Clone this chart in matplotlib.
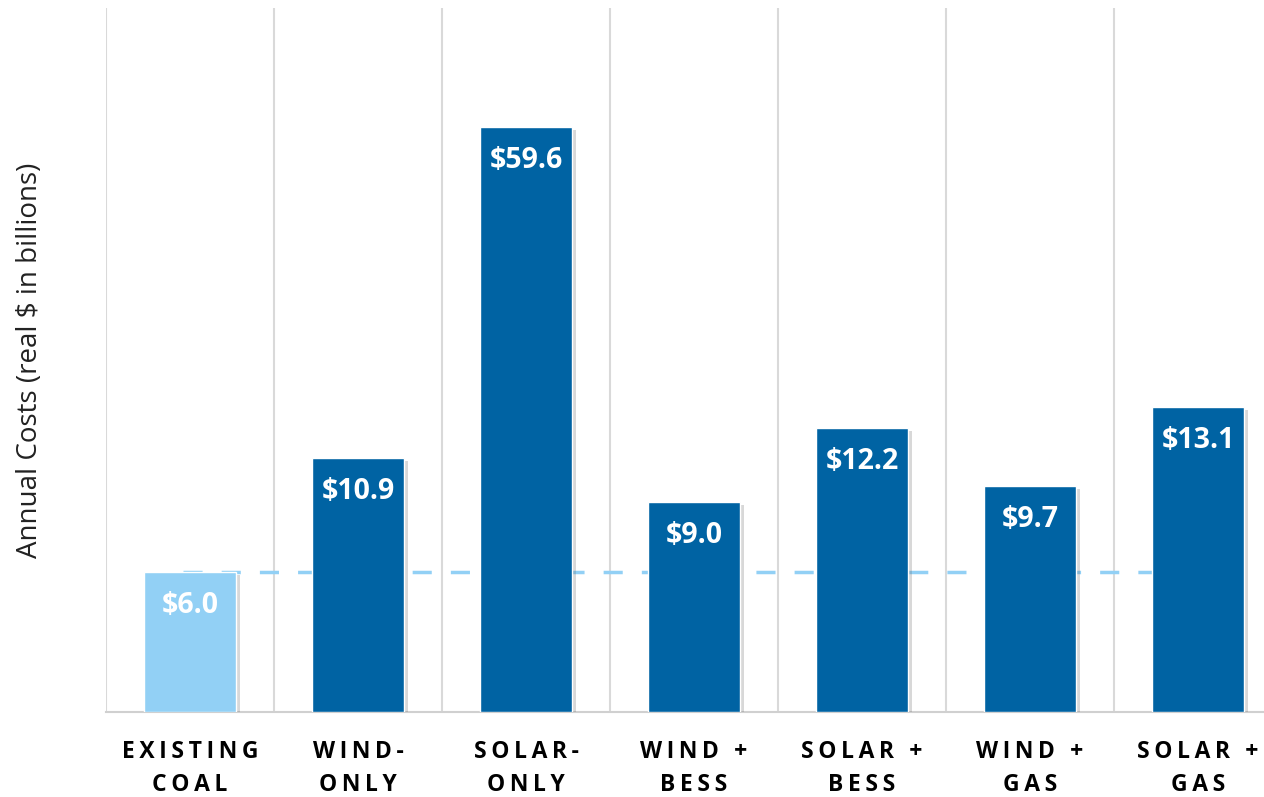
import matplotlib
matplotlib.use("Agg")
import matplotlib.pyplot as plt
import matplotlib.patheffects as pe
import numpy as np

plt.rcParams["font.family"] = ["Open Sans", "DejaVu Sans"]

# ---------- data ----------
CATEGORIES = ["EXISTING\nCOAL", "WIND-\nONLY", "SOLAR-\nONLY", "WIND +\nBESS",
              "SOLAR +\nBESS", "WIND +\nGAS", "SOLAR +\nGAS"]
COSTS = [6.0, 10.9, 59.6, 9.0, 12.2, 9.7, 13.1]
BASELINE = 6.0          # existing coal reference line
DRAW_CAP = 25.1         # off-scale bar is drawn truncated, as in the original

LIGHT = "#92D0F5"
DARK = "#0063A3"


def spaced(label):
    # fake letter spacing with thin spaces
    return "\n".join("\u2009".join(line) for line in label.split("\n"))


fig = plt.figure(figsize=(12.64, 7.97), dpi=100)
ax = fig.add_axes([106 / 1264, 85 / 797, 1176 / 1264, 704 / 797])

x = np.arange(len(CATEGORIES))
heights = [min(v, DRAW_CAP) for v in COSTS]
colors = [LIGHT] + [DARK] * (len(COSTS) - 1)

bars = ax.bar(x, heights, width=0.55, color=colors, edgecolor="white",
              linewidth=1.0, zorder=3)
for b in bars:
    b.set_path_effects([pe.SimplePatchShadow(offset=(3, -2), shadow_rgbFace="#666666", alpha=0.25),
                        pe.Normal()])

# dashed reference line at existing coal cost
ax.plot([-0.04, 6.05], [BASELINE, BASELINE], color=LIGHT, lw=2.5,
        dashes=(5.5, 5.5), zorder=2)

for xi, h, v in zip(x, heights, COSTS):
    ax.annotate(f"${v:.1f}", (xi, h), xytext=(0, -24), textcoords="offset points",
                ha="center", va="center", color="white", fontsize=20.5,
                fontweight="bold", zorder=4)

ax.set_xlim(-0.5, len(CATEGORIES) - 0.5)
ax.set_ylim(0, 704 / 23.3)

# vertical separators between categories
for b in np.arange(-0.5, len(CATEGORIES), 1.0):
    ax.axvline(b, color="#d9d9d9", lw=1.5, zorder=1)

for s in ["top", "right", "left"]:
    ax.spines[s].set_visible(False)
ax.spines["bottom"].set_color("#d0d0d0")
ax.spines["bottom"].set_linewidth(1.5)

ax.set_yticks([])
ax.set_xticks(x)
ax.set_xticklabels([spaced(c) for c in CATEGORIES], fontsize=16.5, fontweight="bold",
                   linespacing=1.5)
ax.tick_params(axis="x", length=0, pad=20)

fig.text(30 / 1264, 1 - 360 / 797, "Annual Costs (real $ in billions)",
         rotation=90, ha="center", va="center", fontsize=20, color="#222222")

fig.savefig("out.png", dpi=100)
